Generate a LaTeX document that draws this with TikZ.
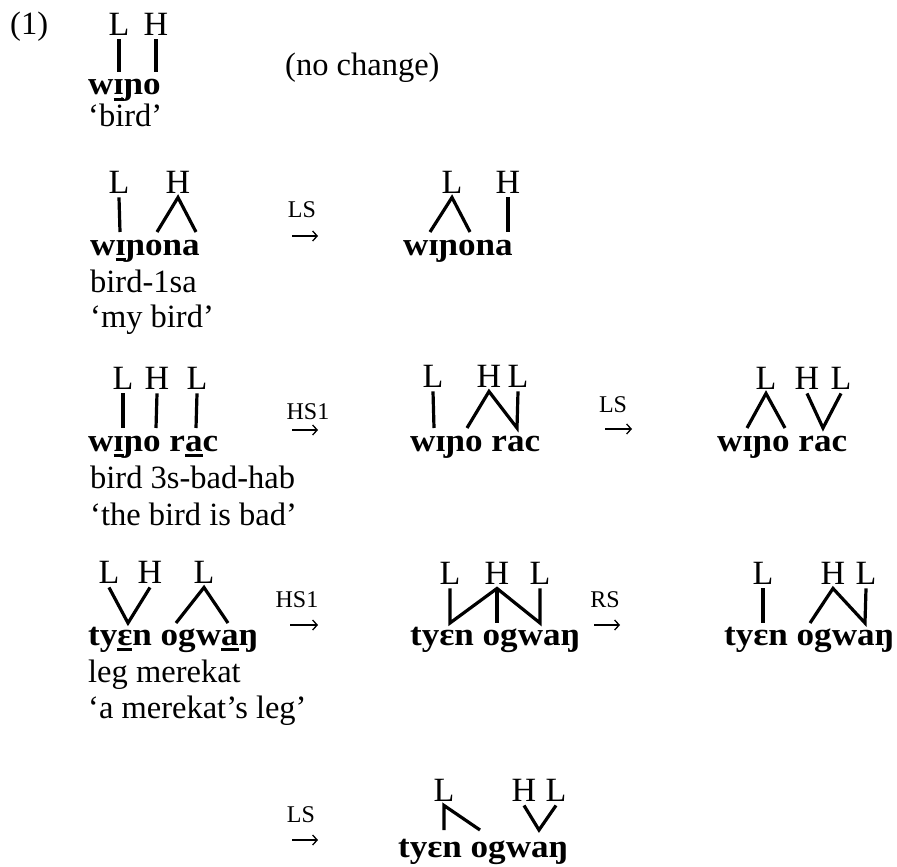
\documentclass[tikz,border=0pt]{standalone}
\usepackage{fontspec}
\setmainfont{Liberation Serif}[BoldFeatures={FakeStretch=1.08}]
\usetikzlibrary{arrows.meta}
\newcommand\ulx[1]{\setbox0\hbox{#1}\rlap{\rule[-5.5pt]{\wd0}{2.2pt}}\box0}
\begin{document}
\begin{tikzpicture}[x=1pt,y=-1pt,
  every node/.style={inner sep=0pt, font=\fontsize{32.5}{37}\selectfont},
  txt/.style={anchor=base west},
  bold/.style={anchor=base west, font=\fontsize{32.5}{37}\selectfont\bfseries},
  tone/.style={font=\fontsize{34}{37}\selectfont, text height=22.5pt, text depth=0pt, inner xsep=0pt, inner ysep=4pt, anchor=center},
  lab/.style={font=\fontsize{24}{28}\selectfont},
  assoc/.style={line width=3.2pt},
  rulearrow/.style={line width=1.3pt, -{Straight Barb[length=4.5pt,width=10pt]}}]
\useasboundingbox (0,0) rectangle (897,867);

% ---- row 1
\node[txt] (ex) at (10,35) {(1)};
\node[tone] (t1a) at (119,24) {L};
\node[tone] (t1b) at (156,24) {H};
\coordinate (v1a) at (119,72);
\coordinate (v1b) at (156,72);
\draw[assoc] (t1a.south) -- (v1a);
\draw[assoc] (t1b.south) -- (v1b);
\node[bold] (w1) at (88,95) {w\ulx{ɪ}ɲo};
\node[txt] (g1) at (88,126) {`bird'};
\node[txt] (nc) at (285,76) {(no change)};

% ---- row 2
\node[tone] (t2a) at (119,182) {L};
\node[tone] (t2b) at (178,182) {H};
\coordinate (v2a) at (120,232);
\coordinate (v2b) at (157,232);
\coordinate (v2c) at (196,232);
\draw[assoc] (t2a.south) -- (v2a);
\draw[assoc] (v2b) -- (t2b.south) -- (v2c);
\node[bold] (w2) at (90,255) {w\ulx{ɪ}ɲona};
\node[txt] (g2a) at (90,292) {bird-1sa};
\node[txt] (g2b) at (90,327) {`my bird'};
\node[lab] (r2) at (302,210) {LS};
\coordinate (a2s) at (292,236);
\coordinate (a2e) at (318,236);
\draw[rulearrow] (a2s) -- (a2e);
\node[tone] (t2c) at (452,182) {L};
\node[tone] (t2d) at (508,182) {H};
\coordinate (v2d) at (430,232);
\coordinate (v2e) at (470,232);
\coordinate (v2f) at (508,232);
\draw[assoc] (v2d) -- (t2c.south) -- (v2e);
\draw[assoc] (t2d.south) -- (v2f);
\node[bold] (w2r) at (403,255) {wɪɲona};

% ---- row 3
\node[tone] (t3a) at (123,378) {L};
\node[tone] (t3b) at (157,378) {H};
\node[tone] (t3c) at (197,378) {L};
\coordinate (v3a) at (123,428);
\coordinate (v3b) at (156,428);
\coordinate (v3c) at (196,428);
\draw[assoc] (t3a.south) -- (v3a);
\draw[assoc] (t3b.south) -- (v3b);
\draw[assoc] (t3c.south) -- (v3c);
\node[bold] (w3) at (88,451) {w\ulx{ɪ}ɲo r\ulx{a}c};
\node[txt] (g3a) at (90,488) {bird 3s-bad-hab};
\node[txt] (g3b) at (90,525) {`the bird is bad'};
\node[lab] (r3a) at (308,412) {HS1};
\coordinate (a3s) at (292,430);
\coordinate (a3e) at (318,430);
\draw[rulearrow] (a3s) -- (a3e);
\node[tone] (t3d) at (433,376) {L};
\node[tone] (t3e) at (489,376) {H};
\node[tone] (t3f) at (518,376) {L};
\coordinate (v3d) at (434,428);
\coordinate (v3e) at (467,428);
\coordinate (v3f) at (517,428);
\draw[assoc] (t3d.south) -- (v3d);
\draw[assoc] (v3e) -- (t3e.south) -- (v3f) -- (t3f.south);
\node[bold] (w3m) at (410,451) {wɪɲo rac};
\node[lab] (r3b) at (613,405) {LS};
\coordinate (b3s) at (605,429);
\coordinate (b3e) at (632,429);
\draw[rulearrow] (b3s) -- (b3e);
\node[tone] (t3g) at (766,378) {L};
\node[tone] (t3h) at (807,378) {H};
\node[tone] (t3i) at (841,378) {L};
\coordinate (v3g) at (747,428);
\coordinate (v3h) at (785,428);
\coordinate (v3i) at (823,428);
\draw[assoc] (v3g) -- (t3g.south) -- (v3h);
\draw[assoc] (t3h.south) -- (v3i) -- (t3i.south);
\node[bold] (w3r) at (717,451) {wɪɲo rac};

% ---- row 4
\node[tone] (t4a) at (109,572) {L};
\node[tone] (t4b) at (150,572) {H};
\node[tone] (t4c) at (204,572) {L};
\coordinate (v4a) at (128,623);
\coordinate (v4b) at (176,623);
\coordinate (v4c) at (228,623);
\draw[assoc] (t4a.south) -- (v4a) -- (t4b.south);
\draw[assoc] (v4b) -- (t4c.south) -- (v4c);
\node[bold] (w4) at (88,645) {ty\ulx{ɛ}n ogw\ulx{a}ŋ};
\node[txt] (g4a) at (88,682) {leg merekat};
\node[txt] (g4b) at (88,718) {`a merekat's leg'};
\node[lab] (r4a) at (297,600) {HS1};
\coordinate (a4s) at (290,625);
\coordinate (a4e) at (318,625);
\draw[rulearrow] (a4s) -- (a4e);
\node[tone] (t4d) at (450,573) {L};
\node[tone] (t4e) at (497,573) {H};
\node[tone] (t4f) at (540,573) {L};
\coordinate (v4d) at (450,623);
\coordinate (v4e) at (497,623);
\coordinate (v4f) at (540,623);
\draw[assoc] (t4d.south) -- (v4d) -- (t4e.south) -- (v4f) -- (t4f.south);
\draw[assoc] (t4e.south) -- (v4e);
\node[bold] (w4m) at (410,645) {tyɛn ogwaŋ};
\node[lab] (r4b) at (605,600) {RS};
\coordinate (b4s) at (594,625);
\coordinate (b4e) at (620,625);
\draw[rulearrow] (b4s) -- (b4e);
\node[tone] (t4g) at (763,573) {L};
\node[tone] (t4h) at (833,573) {H};
\node[tone] (t4i) at (866,573) {L};
\coordinate (v4g) at (763,623);
\coordinate (v4h) at (810,623);
\coordinate (v4i) at (865,623);
\draw[assoc] (t4g.south) -- (v4g);
\draw[assoc] (v4h) -- (t4h.south) -- (v4i) -- (t4i.south);
\node[bold] (w4r) at (724,645) {tyɛn ogwaŋ};

% ---- row 5
\node[lab] (r5) at (301,815) {LS};
\coordinate (a5s) at (292,840);
\coordinate (a5e) at (318,840);
\draw[rulearrow] (a5s) -- (a5e);
\node[tone] (t5a) at (444,790) {L};
\node[tone] (t5b) at (524,790) {H};
\node[tone] (t5c) at (556,790) {L};
\coordinate (v5a) at (444,830);
\coordinate (v5b) at (480,830);
\coordinate (v5c) at (539,830);
\draw[assoc] (v5a) -- (t5a.south) -- (v5b);
\draw[assoc] (t5b.south) -- (v5c) -- (t5c.south);
\node[bold] (w5) at (398,857) {tyɛn ogwaŋ};
\end{tikzpicture}
\end{document}
